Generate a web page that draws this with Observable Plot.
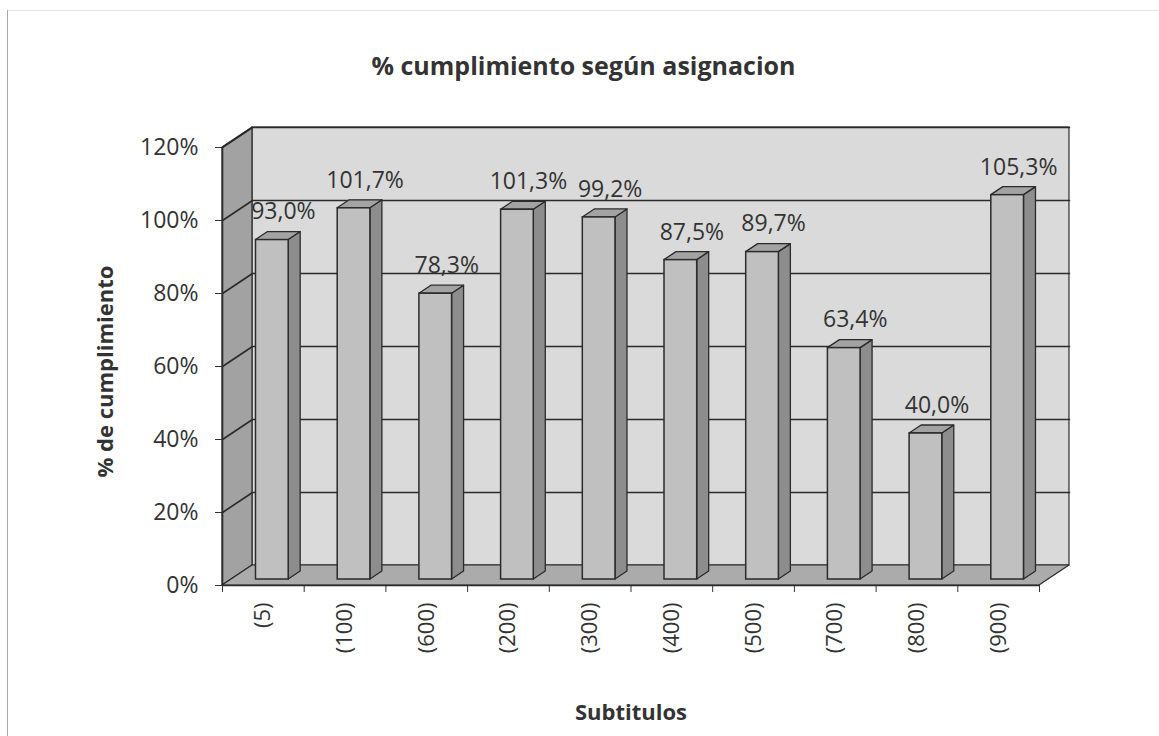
<!DOCTYPE html>
<html>
<head>
<meta charset="utf-8">
<script src="https://cdn.jsdelivr.net/npm/d3@7"></script>
<script src="https://cdn.jsdelivr.net/npm/@observablehq/plot@0.6"></script>
<style>
  html, body { margin: 0; padding: 0; background: #fff; }
  body { width: 1159px; height: 736px; position: relative; overflow: hidden; font-family: "Open Sans", sans-serif; color: #333; }
  #title { height: 100px; box-sizing: border-box; padding-top: 48px; line-height: 34px; font-size: 25px; font-weight: bold; text-align: center; width: 1159px; position: relative; left: 4px; }
  #frameL { position: absolute; left: 7px; top: 10px; width: 1px; height: 726px; background: #aaa; }
  #frameT { position: absolute; left: 8px; top: 10px; width: 1151px; height: 1px; background: #e4e4e4; }
  #chart svg { display: block; }
</style>
</head>
<body>
<div id="frameL"></div>
<div id="frameT"></div>
<div id="title">% cumplimiento según asignacion</div>
<div id="chart"></div>
<script>
// ---- data ----
const categories = ["(5)", "(100)", "(600)", "(200)", "(300)", "(400)", "(500)", "(700)", "(800)", "(900)"];
const values = [93.0, 101.7, 78.3, 101.3, 99.2, 87.5, 89.7, 63.4, 40.0, 105.3];
const yTicks = [0, 20, 40, 60, 80, 100, 120];
const xLabel = "Subtitulos";
const yLabel = "% de cumplimiento";

// ---- 3D depth (in data units of the two scales) ----
const DX = 0.367;   // horizontal depth shift, in category units
const DY = 5.48;    // vertical depth shift, in percent units
const z0 = 0.3, z1 = 0.7;     // bar depth range
const bw0 = 0.3, bw1 = 0.7;   // bar extent within its band

const bars = categories.map((c, i) => ({i, c, v: values[i]}));

// walls
const backWall = [{x1: DX, x2: 10 + DX, y1: DY, y2: 120 + DY}];
const leftWall = [{x: 0, y1: 0, y2: 120}, {x: DX, y1: DY, y2: 120 + DY}];
const floor = [{y: 0, x1: 0, x2: 10}, {y: DY, x1: DX, x2: 10 + DX}];
const gridPts = yTicks.filter(t => t > 0).flatMap(t => [
  {g: t, x: 0, y: t}, {g: t, x: DX, y: t + DY}, {g: t, x: 10 + DX, y: t + DY}
]);
const xAxisLine = [{x1: 0, x2: 10, y: 0}];
const yAxisLine = [{x: 0, y1: 0, y2: 120}];

// bar faces
const sides = bars.flatMap(d => [
  {i: d.i, x: d.i + bw1 + z0 * DX, y1: z0 * DY, y2: d.v + z0 * DY},
  {i: d.i, x: d.i + bw1 + z1 * DX, y1: z1 * DY, y2: d.v + z1 * DY}
]);
const tops = bars.flatMap(d => [
  {i: d.i, y: d.v + z0 * DY, x1: d.i + bw0 + z0 * DX, x2: d.i + bw1 + z0 * DX},
  {i: d.i, y: d.v + z1 * DY, x1: d.i + bw0 + z1 * DX, x2: d.i + bw1 + z1 * DX}
]);
const fronts = bars.map(d => ({
  i: d.i, x1: d.i + bw0 + z0 * DX, x2: d.i + bw1 + z0 * DX, y1: z0 * DY, y2: d.v + z0 * DY
}));

const fmt = v => v.toFixed(1).replace(".", ",") + "%";
const edge = "#2b2b2b";

const chart = Plot.plot({
  width: 1159,
  height: 636,
  marginLeft: 222,
  marginRight: 120,
  marginTop: 47,
  marginBottom: 151,
  style: {fontFamily: "Open Sans, sans-serif", fontSize: "22px", color: "#333", background: "transparent", overflow: "visible"},
  x: {type: "linear", domain: [0, 10], axis: null},
  y: {type: "linear", domain: [0, 120], axis: null},
  marks: [
    // back wall
    Plot.rect(backWall, {x1: "x1", x2: "x2", y1: "y1", y2: "y2", fill: "#dadada", stroke: edge, strokeWidth: 1.2}),
    // left wall
    Plot.areaY(leftWall, {x: "x", y1: "y1", y2: "y2", fill: "#a2a2a2", stroke: edge, strokeWidth: 1.2}),
    // floor
    Plot.areaX(floor, {y: "y", x1: "x1", x2: "x2", fill: "#ababab", stroke: edge, strokeWidth: 1.2}),
    // gridlines
    Plot.line(gridPts, {x: "x", y: "y", z: "g", stroke: edge, strokeWidth: 1.6}),
    // axis ticks
    Plot.axisY({ticks: yTicks, tickFormat: d => d + "%", tickSize: 7, tickPadding: 17, label: null, fontSize: 23}),
    Plot.axisX({ticks: d3.range(11), tickFormat: () => "", tickSize: 7, label: null}),
    Plot.axisX({ticks: d3.range(10).map(i => i + 0.5), tickFormat: i => categories[Math.floor(i)], tickSize: 0, tickPadding: 17, tickRotate: -90, label: null, fontSize: 22}),
    Plot.ruleY(xAxisLine, {y: "y", x1: "x1", x2: "x2", stroke: edge, strokeWidth: 1.6}),
    Plot.ruleX(yAxisLine, {x: "x", y1: "y1", y2: "y2", stroke: edge, strokeWidth: 1.6}),
    // bars: side, top, front
    Plot.areaY(sides, {x: "x", y1: "y1", y2: "y2", z: "i", fill: "#8d8d8d", stroke: edge, strokeWidth: 1.3}),
    Plot.areaX(tops, {y: "y", x1: "x1", x2: "x2", z: "i", fill: "#a3a3a3", stroke: edge, strokeWidth: 1.3}),
    Plot.rect(fronts, {x1: "x1", x2: "x2", y1: "y1", y2: "y2", fill: "#c0c0c0", stroke: edge, strokeWidth: 1.5}),
    // data labels
    Plot.text(bars, {x: d => d.i + 0.5, y: "v", text: d => fmt(d.v), dx: 20, dy: -34, fontSize: 23, fill: "#333"}),
    // axis titles
    Plot.text([xLabel], {frameAnchor: "bottom", dy: 134, fontSize: 22, fontWeight: "bold", fill: "#333"}),
    Plot.text([yLabel], {frameAnchor: "left", textAnchor: "middle", dx: -117, dy: 5, rotate: -90, fontSize: 22, fontWeight: "bold", fill: "#333"})
  ]
});
document.getElementById("chart").appendChild(chart);
</script>
</body>
</html>
